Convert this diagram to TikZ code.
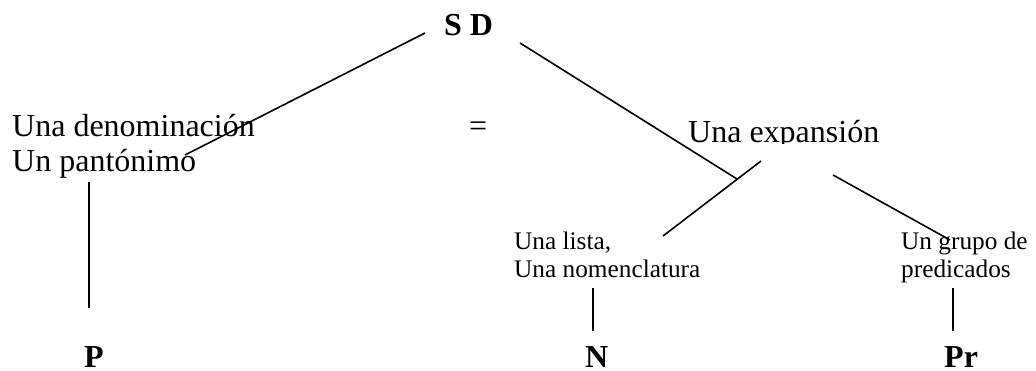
\documentclass[tikz,border=0pt]{standalone}
\usepackage{fontspec}
\setmainfont{Liberation Serif}
\begin{document}
\begin{tikzpicture}[x=1pt,y=-1pt,
  big/.style={anchor=base west,inner sep=0pt,font=\fontsize{32}{35}\selectfont,align=left},
  bigb/.style={anchor=base west,inner sep=0pt,font=\fontsize{32}{35}\selectfont\bfseries},
  small/.style={anchor=base west,inner sep=0pt,font=\fontsize{25.3}{28}\selectfont,align=left},
  edge/.style={line width=1.6pt,line cap=butt}]
\useasboundingbox (0,0) rectangle (1036,371);
% nodes (base anchor = baseline of last line)
\node[bigb] (sd) at (444,36) {S D};
\node[big] (den) at (12,172) {Una denominación\\Un pantónimo};
\node[big] (eq) at (469,137) {=};
\begin{scope}
  \clip (600,100) rectangle (900,144);
  \node[big] (exp) at (688,143) {Una expansión};
\end{scope}
\node[small] (lista) at (514,278) {Una lista,\\Una nomenclatura};
\node[small] (grupo) at (901,278) {Un grupo de\\predicados};
\node[bigb] (p) at (84,367) {P};
\node[bigb] (n) at (585,367) {N};
\node[bigb] (pr) at (944,367) {Pr};
% connector ends
\coordinate (a1) at (425,33);
\coordinate (a2) at (185,155);
\coordinate (b1) at (520,43);
\coordinate (b2) at (737,179);
\coordinate (c1) at (761,161);
\coordinate (c2) at (663,236);
\coordinate (d1) at (833,175);
\coordinate (d2) at (950,240);
\coordinate (e1) at (89,182);
\coordinate (e2) at (89,308);
\coordinate (f1) at (593,288);
\coordinate (f2) at (593,331);
\coordinate (g1) at (953,288);
\coordinate (g2) at (953,331);
\draw[edge] (a1) -- (a2);
\draw[edge] (b1) -- (b2);
\draw[edge] (c1) -- (c2);
\draw[edge] (d1) -- (d2);
\draw[edge] (e1) -- (e2);
\draw[edge] (f1) -- (f2);
\draw[edge] (g1) -- (g2);
\end{tikzpicture}
\end{document}
